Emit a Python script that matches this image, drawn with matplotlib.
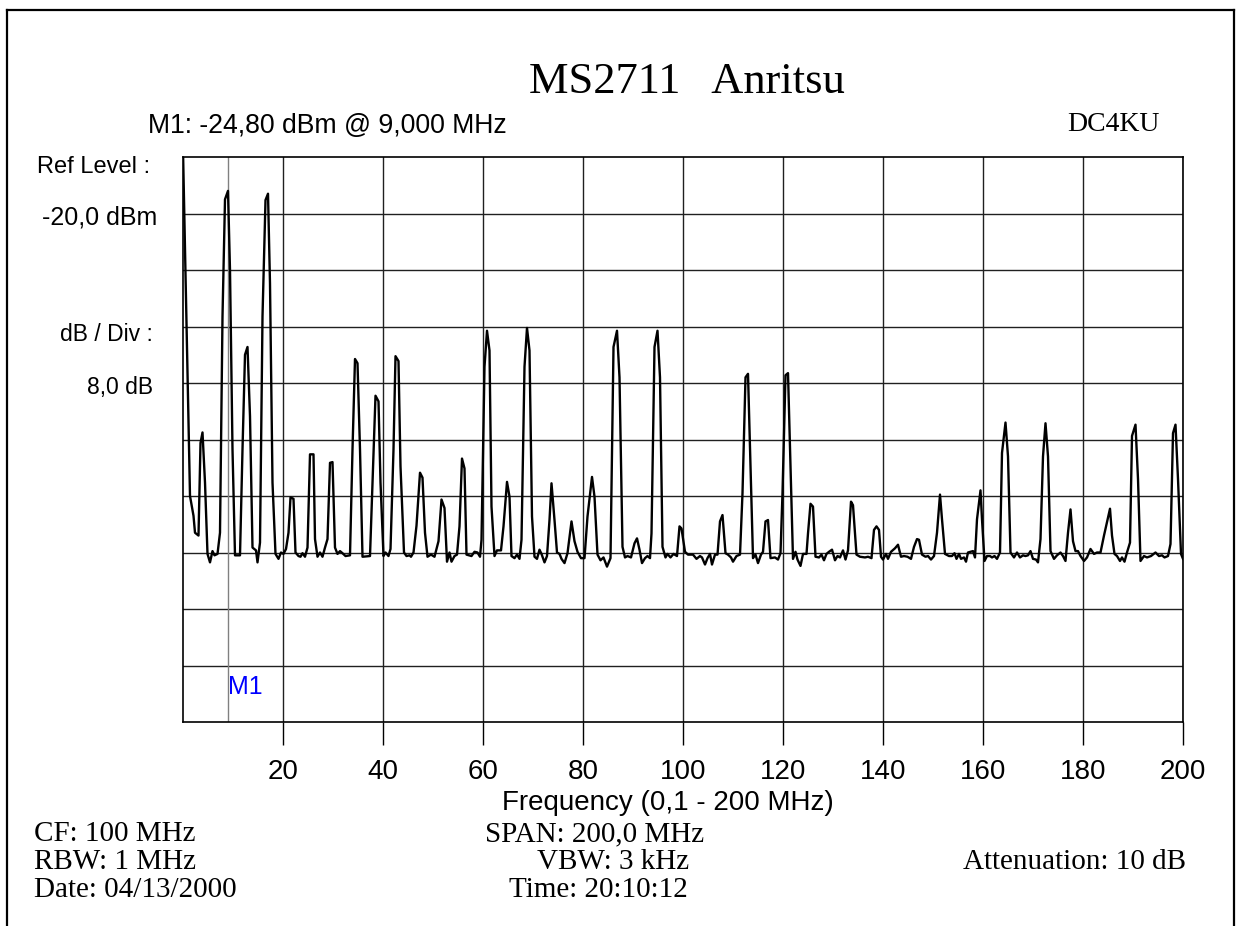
import matplotlib
matplotlib.use("Agg")
import matplotlib.pyplot as plt
from matplotlib.lines import Line2D

# Trace (frequency in MHz, level in dBm)
trace_mhz = [
    0.0, 1.4, 2.1, 2.4, 3.1, 3.5, 3.9, 4.4, 4.9, 5.4, 5.9, 6.3, 6.9, 7.4, 7.9, 8.4, 9.0, 9.4, 9.9,
    10.4, 11.4, 11.9, 12.4, 12.9, 13.4, 13.9, 14.6, 14.9, 15.4, 15.9, 16.5, 17.0, 17.4, 17.9,
    18.5, 19.1, 19.6, 20.1, 20.6, 21.1, 21.5, 22.1, 22.5, 23.1, 23.5, 23.9, 24.4, 24.9, 25.4,
    26.1, 26.4, 26.9, 27.4, 27.9, 28.4, 28.9, 29.4, 29.9, 30.4, 30.9, 31.4, 31.9, 32.5, 33.4,
    33.9, 34.4, 34.9, 35.4, 35.9, 37.4, 37.9, 38.5, 39.1, 39.5, 40.1, 40.5, 41.1, 41.5, 42.1,
    42.5, 43.1, 43.5, 44.2, 44.7, 45.3, 45.6, 46.1, 46.7, 47.4, 47.9, 48.4, 48.9,
    49.6, 50.3, 51.1, 51.7, 52.3, 52.8, 53.3, 53.7, 54.3, 54.8, 55.3, 55.8, 56.3, 56.7, 57.7,
    58.3, 58.9, 59.4, 59.7, 60.3, 60.8, 61.3, 61.7, 62.3, 62.8, 63.6, 64.1, 64.8, 65.3, 65.7,
    66.3, 66.8, 67.3, 67.7, 68.3, 68.8, 69.3, 69.8, 70.3, 70.8, 71.3, 71.7, 72.3, 72.8, 73.3,
    73.7, 74.3, 74.8, 75.3, 75.7, 76.3, 76.9, 77.7, 78.3, 78.9, 79.6, 80.3, 80.9, 81.8, 82.3,
    82.9, 83.5, 84.1, 84.8, 85.5, 86.1, 86.8, 87.3, 87.9, 88.4, 88.9, 89.6, 90.3, 90.8, 91.3,
    91.8, 92.4, 92.9, 93.4, 93.7, 94.3, 94.9, 95.4, 95.9, 96.5, 96.9, 97.5, 98.1, 98.8, 99.3,
    99.7, 100.4, 101.0, 102.0, 102.7, 103.4, 103.8, 104.4, 104.9, 105.4, 105.8, 106.4, 106.9,
    107.4, 107.9, 108.5, 109.0, 109.6, 110.0, 110.7, 111.4, 111.9, 112.5, 113.0, 113.5, 114.0,
    114.5, 115.0, 115.6, 116.0, 116.5, 117.0, 117.5, 118.4, 119.0, 119.5, 119.9, 120.5, 121.0,
    121.5, 122.0, 122.5, 122.9, 123.5, 124.0, 124.7, 125.0, 125.5, 126.0, 126.5, 127.2, 127.7,
    128.2, 128.7, 129.2, 129.8, 130.4, 130.9, 131.4, 132.0, 132.5, 133.0, 133.6, 134.0, 134.7,
    135.4, 136.4, 137.0, 137.7, 138.2, 138.7, 139.2, 139.6, 140.0, 140.6, 141.0, 141.6, 142.4,
    143.0, 143.6, 144.2, 144.9, 145.6, 146.2, 146.8, 147.2, 147.8, 148.5, 149.0, 149.6,
    150.2, 150.8, 151.4, 151.8, 152.4, 153.2, 153.8, 154.3, 154.7, 155.2, 155.6, 156.2, 156.6,
    157.0, 157.5, 158.0, 158.4, 158.8, 159.5, 159.8, 160.3, 160.8, 161.4, 161.8, 162.3, 162.8,
    163.4, 163.8, 164.5, 165.0, 165.5, 166.2, 166.8, 167.4, 168.0, 168.5, 169.0, 169.5, 170.0,
    170.6, 171.0, 171.5, 172.0, 172.5, 173.0, 173.5, 174.2, 174.8, 175.5, 176.0, 176.5, 177.0,
    177.5, 178.0, 178.5, 179.0, 179.5, 180.2, 180.8, 181.5, 182.2, 182.8, 183.5, 184.2, 185.4,
    185.8, 186.3, 186.8, 187.4, 187.8, 188.3, 188.8, 189.4, 189.8, 190.5, 191.0, 191.5, 192.2,
    192.8, 193.6, 194.5, 195.2, 195.8, 196.3, 197.0, 197.5, 198.0, 198.5, 199.0, 199.6, 200.0,
]
trace_dbm = [
    -19.0, -68.0, -70.8, -73.2, -73.6, -60.5, -59.0, -66.1, -76.2, -77.4, -75.8, -76.4, -76.2, -73.2, -42.6, -26.0, -24.8, -36.0, -61.4,
    -76.4, -76.4, -61.4, -48.0, -46.9, -56.7, -75.3, -75.7, -77.4, -74.6, -42.6, -26.1, -25.2, -37.9, -66.1,
    -76.2, -76.9, -76.0, -76.2, -75.5, -73.2, -68.2, -68.4, -76.0, -76.5, -76.6, -76.1, -76.6, -75.3, -62.1,
    -62.1, -74.1, -76.6, -76.0, -76.6, -75.3, -74.1, -63.3, -63.2, -75.3, -76.2, -75.8, -76.1, -76.5, -76.4,
    -61.4, -48.6, -49.2, -61.4, -76.6, -76.5, -66.1, -53.8, -54.6, -66.1, -76.5, -76.0, -76.5, -75.5, -61.4,
    -48.2, -48.9, -63.8, -76.0, -76.5, -76.4, -76.6, -76.0, -72.2, -64.7, -65.4, -73.2, -76.6,
    -76.3, -76.6, -74.4, -68.5, -69.7, -77.3, -76.0, -77.3, -76.5, -76.3, -72.3, -62.7, -64.1, -76.3, -76.5,
    -75.9, -76.0, -76.6, -74.2, -49.7, -44.6, -47.4, -69.5, -76.5, -75.7, -75.7, -72.3, -66.0, -68.1, -76.5,
    -76.8, -76.3, -76.9, -74.2, -49.7, -44.2, -47.4, -70.9, -76.6, -76.9, -75.6, -76.2, -77.4, -76.5, -71.4,
    -66.2, -71.4, -76.0, -76.2, -76.9, -77.5, -76.1, -71.6, -74.4, -75.9, -76.8, -76.8, -70.9, -65.3, -68.1,
    -76.3, -77.1, -76.7, -78.0, -76.8, -46.9, -44.6, -51.2, -75.2, -76.7, -76.5, -76.7, -74.7, -74.0, -75.6,
    -77.5, -76.8, -76.5, -76.8, -73.3, -46.9, -44.6, -51.2, -75.2, -76.7, -76.2, -76.7, -76.2, -76.5, -72.3,
    -72.6, -75.9, -76.3, -76.3, -76.9, -76.5, -76.7, -77.7, -76.8, -76.2, -77.7, -76.3, -76.3,
    -71.6, -70.7, -76.1, -76.3, -76.7, -77.3, -76.5, -76.3, -67.6, -51.2, -50.7, -63.9, -76.8,
    -76.3, -77.5, -76.3, -75.9, -71.6, -71.4, -76.8, -76.7, -77.0, -76.1, -67.6, -50.9, -50.6,
    -63.9, -76.9, -75.9, -77.0, -77.9, -76.2, -76.2, -73.3, -69.1, -69.5, -76.6, -76.7, -76.3,
    -77.1, -76.2, -75.9, -75.6, -77.1, -76.5, -76.7, -75.7, -77.0, -75.7, -68.8, -69.3, -76.3,
    -76.6, -76.7, -76.6, -76.8, -72.8, -72.3, -72.8, -76.6, -77.0, -76.2, -76.9, -75.9, -75.4,
    -74.9, -76.6, -76.5, -76.6, -76.9, -75.2, -74.1, -74.2, -76.3, -76.6, -76.5, -77.0,
    -76.5, -73.2, -67.8, -71.3, -76.2, -76.5, -76.5, -76.1, -76.9, -76.2, -76.9, -76.7, -77.3,
    -76.0, -75.9, -75.8, -76.7, -71.3, -67.2, -71.3, -77.2, -76.5, -76.5, -76.7, -76.5, -76.9,
    -76.0, -61.9, -57.6, -62.4, -76.0, -76.7, -76.0, -76.7, -76.4, -76.5, -76.4, -75.8, -76.9,
    -77.0, -77.4, -74.1, -62.4, -57.7, -62.4, -75.8, -76.9, -76.4, -76.0, -76.5, -77.2, -73.2,
    -69.9, -74.4, -75.8, -75.8, -76.5, -77.2, -76.7, -75.5, -76.2, -76.0, -76.0, -73.6, -69.8,
    -73.6, -76.2, -76.5, -77.2, -76.7, -77.3, -76.0, -74.6, -59.5, -57.9, -65.6, -77.2, -76.5,
    -76.7, -76.5, -76.0, -76.5, -76.4, -76.7, -76.5, -74.8, -59.1, -57.9, -65.6, -76.2, -76.9,
]

x_ticks = [20, 40, 60, 80, 100, 120, 140, 160, 180, 200]
grid_dbm = [-28, -36, -44, -52, -60, -68, -76, -84, -92]
marker_mhz = 9.0

W, H = 1240, 926
fig = plt.figure(figsize=(W / 100, H / 100), dpi=100)

def fx(px):
    return px / W

def fy(py):
    return 1 - py / H

ax = fig.add_axes([fx(183), fy(722), 1000 / W, 565 / H])
ax.plot(trace_mhz, trace_dbm, color="black", lw=1.7, zorder=3)
ax.set_xlim(0, 200)
ax.set_ylim(-100, -20)

ax.set_xticks(x_ticks)
ax.set_xticklabels([str(t) for t in x_ticks], fontsize=20, family="Liberation Sans")
ax.set_yticks(grid_dbm)
ax.tick_params(axis="y", length=0, labelleft=False)
ax.tick_params(axis="x", direction="out", length=16.5, width=1.0, pad=10, color="black")
ax.grid(True, color="#202020", lw=1.0)
ax.axvline(marker_mhz, color="#808080", lw=1.0, zorder=2)
for s in ax.spines.values():
    s.set_linewidth(1.2)
    s.set_color("black")

# outer frame (bottom edge is off the page)
fig.add_artist(Line2D([fx(6.5), fx(6.5)], [fy(10), fy(930)], color="black", lw=1.6))
fig.add_artist(Line2D([fx(6.5), fx(1233.5)], [fy(10), fy(10)], color="black", lw=1.6))
fig.add_artist(Line2D([fx(1233.5), fx(1233.5)], [fy(10), fy(930)], color="black", lw=1.6))

sans = "Liberation Sans"
serif = "Liberation Serif"

fig.text(fx(687), fy(93), "MS2711   Anritsu", fontsize=32, family=serif, ha="center", va="baseline")
fig.text(fx(148), fy(133), "M1: -24,80 dBm @ 9,000 MHz", fontsize=19.2, family=sans, va="baseline")
fig.text(fx(1160), fy(131), "DC4KU", fontsize=20, family=serif, ha="right", va="baseline")

fig.text(fx(150), fy(173), "Ref Level :", fontsize=17, family=sans, ha="right", va="baseline")
fig.text(fx(157), fy(225), "-20,0 dBm", fontsize=18, family=sans, ha="right", va="baseline")
fig.text(fx(153), fy(341), "dB / Div :", fontsize=16.5, family=sans, ha="right", va="baseline")
fig.text(fx(153), fy(394), "8,0 dB", fontsize=16.5, family=sans, ha="right", va="baseline")

ax.text(marker_mhz, -96.0, "M1", color="#0000ff", fontsize=18, family=sans, ha="left", va="baseline")

fig.text(fx(668), fy(810), "Frequency (0,1 - 200 MHz)", fontsize=20, family=sans, ha="center", va="baseline")

fig.text(fx(34), fy(841), "CF: 100 MHz", fontsize=21, family=serif, va="baseline")
fig.text(fx(34), fy(869), "RBW: 1 MHz", fontsize=21, family=serif, va="baseline")
fig.text(fx(34), fy(897), "Date: 04/13/2000", fontsize=21, family=serif, va="baseline")
fig.text(fx(485), fy(841), "SPAN: 200,0 MHz", fontsize=21, family=serif, va="baseline")
fig.text(fx(537), fy(869), "VBW: 3 kHz", fontsize=21, family=serif, va="baseline")
fig.text(fx(509), fy(897), "Time: 20:10:12", fontsize=21, family=serif, va="baseline")
fig.text(fx(1186), fy(869), "Attenuation: 10 dB", fontsize=21, family=serif, ha="right", va="baseline")

fig.savefig("out.png", dpi=100, facecolor="white")
